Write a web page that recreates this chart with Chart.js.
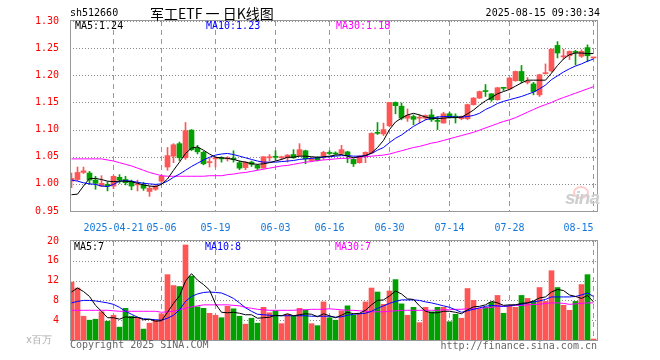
<!DOCTYPE html>
<html>
<head>
<meta charset="utf-8">
<script src="https://cdn.jsdelivr.net/npm/chart.js@4.4.1/dist/chart.umd.min.js"></script>
<style>
body { margin: 0; background: #fff; }
#wrap { position: relative; width: 660px; height: 360px; font-family: 'DejaVu Sans Mono', monospace; font-size: 10px; }
.t { position: absolute; white-space: nowrap; line-height: 12px; }
</style>
</head>
<body>
<div id="wrap">
  <canvas id="kline" width="660" height="232" style="position:absolute;left:0;top:0"></canvas>
  <canvas id="vol" width="660" height="128" style="position:absolute;left:0;top:232px"></canvas>

  <div class="t" style="left:70px;top:7px">sh512660</div>
  <div class="t" style="left:150px;top:3px;font:14px 'Noto Sans CJK SC';line-height:20px">军工ETF 一 日K线图</div>
  <div class="t" style="right:60px;top:7px">2025-08-15 09:30:34</div>

  <div class="t" style="left:75px;top:20px;color:#000">MA5:1.24</div>
  <div class="t" style="left:206px;top:20px;color:#0000ff">MA10:1.23</div>
  <div class="t" style="left:336px;top:20px;color:#ff00ff">MA30:1.18</div>

  <div class="t" style="left:74px;top:241px;color:#000">MA5:7</div>
  <div class="t" style="left:205px;top:241px;color:#0000ff">MA10:8</div>
  <div class="t" style="left:335px;top:241px;color:#ff00ff">MA30:7</div>

  <div class="t" style="left:26px;top:334px;color:#aaa">x百万</div>
  <div class="t" style="left:70px;top:339px;color:#666">Copyright 2025 SINA.COM</div>
  <div class="t" style="right:63px;top:340px;color:#666">http://finance.sina.com.cn</div>

  <div style="position:absolute;left:573px;top:186px;width:12px;height:9px;border:2px solid rgba(255,110,110,0.35);border-radius:50%"></div>
  <div class="t" style="left:565px;top:189px;font:italic bold 19px 'Liberation Sans';line-height:18px;color:#cfcfcf;letter-spacing:-1px">sina</div>
</div>

<script>
// x positions of the date grid lines (candle index) and their labels
const gridIdx = [7, 15, 24, 34, 43, 53, 63, 73, 87];
const gridLabels = ['2025-04-21', '05-06', '05-19', '06-03', '06-16', '06-30', '07-14', '07-28', '08-15     '];
const priceTicks = [0.95, 1.00, 1.05, 1.10, 1.15, 1.20, 1.25, 1.30];
const volTicks = [0, 4, 8, 12, 16, 20];

// daily candles, 2025-04-10 .. 2025-08-15
const opens = [1.005, 1.008, 1.021, 1.020, 1.007, 0.996, 0.999, 0.996, 1.012, 1.008,
  1.003, 0.998, 0.998, 0.986, 0.990, 1.005, 1.031, 1.051, 1.074, 1.048,
  1.099, 1.066, 1.058, 1.039, 1.046, 1.047, 1.046, 1.047, 1.039, 1.030,
  1.040, 1.034, 1.029, 1.048, 1.050, 1.048, 1.048, 1.054, 1.052, 1.061,
  1.043, 1.049, 1.052, 1.057, 1.056, 1.056, 1.059, 1.045, 1.039, 1.051,
  1.057, 1.094, 1.092, 1.107, 1.150, 1.143, 1.121, 1.124, 1.121, 1.121,
  1.127, 1.116, 1.112, 1.129, 1.124, 1.120, 1.120, 1.146, 1.158, 1.171,
  1.166, 1.155, 1.177, 1.175, 1.190, 1.207, 1.187, 1.184, 1.164, 1.203,
  1.208, 1.255, 1.234, 1.236, 1.244, 1.235, 1.251, 1.232];
const highs = [1.020, 1.031, 1.031, 1.023, 1.014, 1.015, 1.004, 1.015, 1.017, 1.014,
  1.007, 1.007, 1.003, 0.996, 0.999, 1.017, 1.067, 1.074, 1.077, 1.113,
  1.100, 1.071, 1.060, 1.048, 1.050, 1.050, 1.050, 1.061, 1.042, 1.041,
  1.042, 1.036, 1.050, 1.054, 1.061, 1.051, 1.054, 1.063, 1.074, 1.062,
  1.049, 1.050, 1.060, 1.061, 1.059, 1.071, 1.060, 1.046, 1.052, 1.059,
  1.094, 1.113, 1.112, 1.150, 1.151, 1.149, 1.138, 1.127, 1.127, 1.127,
  1.137, 1.124, 1.132, 1.132, 1.129, 1.125, 1.147, 1.159, 1.171, 1.183,
  1.166, 1.178, 1.178, 1.196, 1.208, 1.218, 1.196, 1.187, 1.202, 1.221,
  1.249, 1.262, 1.248, 1.245, 1.246, 1.247, 1.256, 1.233];
const lows = [0.993, 1.006, 1.019, 0.999, 0.990, 0.995, 0.987, 0.991, 1.001, 0.998,
  0.989, 0.987, 0.988, 0.977, 0.988, 1.002, 1.025, 1.039, 1.043, 1.045,
  1.061, 1.055, 1.035, 1.031, 1.031, 1.040, 1.042, 1.040, 1.026, 1.026,
  1.032, 1.026, 1.029, 1.042, 1.044, 1.044, 1.040, 1.047, 1.051, 1.037,
  1.041, 1.042, 1.045, 1.054, 1.054, 1.054, 1.039, 1.032, 1.038, 1.039,
  1.056, 1.091, 1.089, 1.105, 1.129, 1.118, 1.115, 1.109, 1.112, 1.118,
  1.115, 1.100, 1.112, 1.121, 1.112, 1.118, 1.118, 1.145, 1.157, 1.161,
  1.152, 1.154, 1.172, 1.173, 1.189, 1.186, 1.184, 1.164, 1.161, 1.202,
  1.206, 1.232, 1.230, 1.229, 1.219, 1.233, 1.225, 1.231];
const closes = [1.010, 1.021, 1.024, 1.007, 1.001, 1.001, 0.996, 1.014, 1.007, 1.002,
  0.996, 1.000, 0.992, 0.992, 0.996, 1.014, 1.052, 1.072, 1.048, 1.098,
  1.063, 1.059, 1.037, 1.040, 1.048, 1.046, 1.047, 1.045, 1.029, 1.040,
  1.036, 1.029, 1.050, 1.050, 1.049, 1.049, 1.053, 1.048, 1.063, 1.046,
  1.046, 1.043, 1.058, 1.056, 1.055, 1.063, 1.052, 1.037, 1.051, 1.058,
  1.093, 1.093, 1.100, 1.150, 1.144, 1.121, 1.126, 1.119, 1.122, 1.126,
  1.118, 1.115, 1.129, 1.122, 1.123, 1.124, 1.146, 1.158, 1.170, 1.170,
  1.155, 1.177, 1.176, 1.195, 1.207, 1.190, 1.188, 1.170, 1.201, 1.204,
  1.248, 1.241, 1.235, 1.244, 1.242, 1.244, 1.236, 1.233];

// price moving averages as drawn on the chart
const ma5 = [0.980, 0.981, 0.996, 1.010, 1.010, 1.008, 1.005, 1.004, 1.005, 1.005,
  1.004, 1.001, 0.998, 0.996, 0.995, 0.999, 1.009, 1.025, 1.040, 1.056,
  1.066, 1.068, 1.062, 1.055, 1.049, 1.048, 1.047, 1.045, 1.042, 1.040,
  1.037, 1.036, 1.037, 1.039, 1.042, 1.045, 1.049, 1.049, 1.051, 1.051,
  1.050, 1.049, 1.050, 1.051, 1.053, 1.054, 1.051, 1.048, 1.050, 1.052,
  1.057, 1.067, 1.080, 1.100, 1.114, 1.121, 1.127, 1.130, 1.127, 1.123,
  1.121, 1.120, 1.121, 1.122, 1.122, 1.123, 1.129, 1.136, 1.145, 1.153,
  1.159, 1.166, 1.170, 1.174, 1.180, 1.186, 1.191, 1.191, 1.191, 1.191,
  1.204, 1.218, 1.230, 1.238, 1.241, 1.241, 1.240, 1.240];
const ma10 = [1.007, 1.005, 1.002, 1.000, 0.999, 0.996, 0.995, 0.999, 1.005, 1.006,
  1.005, 1.003, 1.001, 1.000, 0.999, 1.000, 1.005, 1.012, 1.018, 1.025,
  1.032, 1.038, 1.044, 1.049, 1.053, 1.055, 1.056, 1.054, 1.051, 1.048,
  1.045, 1.042, 1.040, 1.040, 1.040, 1.041, 1.042, 1.043, 1.045, 1.046,
  1.047, 1.048, 1.049, 1.050, 1.051, 1.052, 1.052, 1.051, 1.051, 1.052,
  1.056, 1.062, 1.067, 1.076, 1.084, 1.090, 1.098, 1.106, 1.112, 1.118,
  1.121, 1.123, 1.124, 1.124, 1.123, 1.123, 1.124, 1.126, 1.130, 1.137,
  1.142, 1.148, 1.152, 1.155, 1.158, 1.161, 1.165, 1.169, 1.175, 1.182,
  1.192, 1.199, 1.206, 1.212, 1.217, 1.221, 1.226, 1.230];
const ma30 = [1.046, 1.046, 1.046, 1.046, 1.046, 1.046, 1.044, 1.042, 1.039, 1.036,
  1.033, 1.029, 1.025, 1.021, 1.018, 1.015, 1.014, 1.014, 1.014, 1.014,
  1.014, 1.014, 1.014, 1.015, 1.015, 1.015, 1.017, 1.018, 1.020, 1.021,
  1.023, 1.025, 1.027, 1.029, 1.031, 1.033, 1.034, 1.036, 1.038, 1.040,
  1.041, 1.043, 1.044, 1.045, 1.046, 1.047, 1.047, 1.048, 1.049, 1.050,
  1.051, 1.052, 1.053, 1.055, 1.058, 1.061, 1.064, 1.067, 1.069, 1.072,
  1.075, 1.077, 1.080, 1.083, 1.086, 1.089, 1.092, 1.095, 1.099, 1.103,
  1.107, 1.111, 1.115, 1.118, 1.122, 1.127, 1.132, 1.137, 1.142, 1.146,
  1.150, 1.155, 1.159, 1.163, 1.167, 1.171, 1.175, 1.179];

// volume (x百万) and its moving averages
const vols = [11.7, 10.5, 4.8, 4.0, 4.2, 5.7, 3.8, 5.0, 2.6, 6.4,
  4.8, 4.5, 2.2, 3.4, 4.0, 5.3, 13.2, 11.0, 10.8, 19.2,
  12.9, 6.7, 6.4, 5.4, 5.0, 4.5, 6.8, 6.3, 4.8, 3.2,
  4.4, 3.4, 6.6, 5.5, 5.9, 3.3, 5.2, 4.8, 6.4, 6.1,
  3.3, 2.9, 7.7, 4.5, 4.0, 5.9, 6.9, 5.0, 5.3, 7.7,
  10.5, 9.7, 7.2, 9.9, 12.2, 7.3, 5.0, 6.6, 3.5, 6.6,
  5.7, 6.6, 6.6, 3.7, 5.2, 4.4, 10.4, 8.0, 6.2, 6.6,
  7.6, 9.0, 5.4, 6.8, 6.6, 9.0, 8.4, 7.8, 10.6, 7.8,
  14.0, 10.6, 7.0, 6.0, 7.8, 11.2, 13.2, 0.2];
const volMa5 = [9.7, 10.5, 9.8, 8.8, 7.0, 5.8, 4.5, 4.5, 4.2, 4.7,
  4.5, 4.6, 4.1, 4.2, 3.8, 3.9, 5.6, 7.4, 8.9, 11.9,
  13.4, 12.1, 11.2, 10.1, 7.3, 5.6, 5.5, 5.6, 5.4, 5.1,
  5.1, 4.4, 4.5, 4.6, 5.0, 4.9, 5.3, 4.9, 5.1, 5.3,
  5.2, 4.7, 5.3, 4.9, 4.5, 5.0, 5.6, 5.3, 5.4, 6.0,
  7.1, 8.0, 8.1, 8.9, 9.9, 9.3, 8.3, 8.2, 6.9, 5.8,
  5.5, 5.5, 5.8, 5.8, 5.6, 5.3, 6.1, 6.7, 6.8, 7.1,
  7.8, 7.5, 7.0, 7.1, 7.1, 7.4, 7.5, 7.9, 8.5, 8.7,
  9.7, 10.2, 10.0, 9.1, 8.8, 8.4, 9.0, 7.7];
const volMa10 = [7.5, 7.8, 8.0, 8.0, 7.9, 7.7, 7.5, 7.2, 6.6, 5.8,
  5.2, 4.6, 4.3, 4.2, 4.1, 4.0, 4.4, 5.0, 6.1, 7.8,
  8.8, 9.3, 9.6, 9.7, 9.6, 9.5, 9.0, 8.4, 7.5, 6.5,
  5.8, 5.2, 5.1, 5.0, 4.9, 4.9, 4.9, 4.9, 4.9, 4.9,
  4.8, 4.8, 4.8, 4.8, 4.6, 4.7, 5.0, 5.2, 5.3, 5.4,
  5.8, 6.4, 6.9, 7.4, 7.8, 8.1, 8.1, 8.1, 8.0, 7.7,
  7.5, 7.2, 6.9, 6.6, 6.1, 5.6, 5.9, 6.2, 6.5, 6.8,
  7.0, 6.9, 6.8, 6.9, 7.1, 7.2, 7.5, 7.7, 7.9, 8.2,
  8.7, 8.7, 8.7, 8.7, 8.8, 9.1, 9.5, 8.8];
const volMa30 = [6.0, 6.0, 6.0, 6.0, 6.0, 6.0, 6.0, 5.9, 5.8, 5.8,
  5.8, 5.8, 5.8, 5.8, 5.8, 5.6, 5.7, 5.8, 6.1, 6.4,
  6.7, 6.9, 7.1, 7.1, 7.1, 7.1, 7.1, 7.0, 6.9, 6.6,
  6.4, 6.2, 6.1, 6.0, 6.0, 6.0, 6.0, 6.0, 6.1, 6.1,
  6.2, 6.2, 6.2, 6.3, 6.2, 6.1, 6.0, 6.0, 5.9, 5.8,
  5.7, 5.7, 5.7, 5.8, 5.9, 6.0, 6.0, 6.0, 6.0, 6.0,
  6.0, 6.0, 6.1, 6.1, 6.2, 6.2, 6.3, 6.3, 6.4, 6.5,
  6.6, 6.8, 6.8, 6.9, 7.0, 7.0, 7.1, 7.2, 7.2, 7.4,
  7.5, 7.5, 7.4, 7.2, 7.3, 7.4, 7.5, 7.5];

const UP = '#ff5555';
const DOWN = '#00a000';
const colorAt = i => (closes[i] >= opens[i] ? UP : DOWN);
const idx = closes.map((_, i) => i);

Chart.defaults.font.family = "'DejaVu Sans Mono', monospace";
Chart.defaults.font.size = 10;

// dotted levels and dashed date lines, placed by the chart's own scales
function gridLines(levels) {
  return {
    id: 'gridLines',
    beforeDatasetsDraw(chart) {
      const { ctx, chartArea: a, scales: { x, y } } = chart;
      ctx.save();
      ctx.lineWidth = 1;
      ctx.strokeStyle = '#8a8a8a';
      ctx.setLineDash([1, 2]);
      levels.forEach(v => {
        const py = Math.round(y.getPixelForValue(v)) + 0.5;
        ctx.beginPath(); ctx.moveTo(a.left, py); ctx.lineTo(a.right, py); ctx.stroke();
      });
      ctx.strokeStyle = '#999';
      ctx.setLineDash([5, 4]);
      gridIdx.forEach(v => {
        const px = Math.floor(x.getPixelForValue(v)) + 0.5;
        ctx.beginPath(); ctx.moveTo(px, a.top); ctx.lineTo(px, a.bottom); ctx.stroke();
      });
      ctx.restore();
    }
  };
}

// plain gray box round the plot area
const frame = {
  id: 'frame',
  afterDraw(chart) {
    const a = chart.chartArea, ctx = chart.ctx;
    ctx.save();
    ctx.strokeStyle = '#999';
    ctx.lineWidth = 1;
    ctx.strokeRect(Math.round(a.left) + 0.5, Math.round(a.top) - 0.5, Math.round(a.right - a.left) - 1, Math.round(a.bottom - a.top) + 1);
    ctx.restore();
  }
};

function xScale(showLabels, h) {
  return {
    type: 'linear', min: -0.25, max: 87.75, offset: false,
    afterBuildTicks: s => { s.ticks = gridIdx.map(v => ({ value: v })); },
    afterFit: s => { s.height = h; },
    ticks: {
      display: showLabels, autoSkip: false, maxRotation: 0, padding: 3, color: '#1177dd',
      callback: v => gridLabels[gridIdx.indexOf(v)]
    },
    grid: { display: false, offset: false },
    border: { display: false }
  };
}

function yScale(min, max, ticks, fmt) {
  return {
    min: min, max: max,
    afterBuildTicks: s => { s.ticks = ticks.map(v => ({ value: v })); },
    afterFit: s => { s.width = 70; },
    ticks: { color: '#ff0000', padding: 3, callback: fmt },
    grid: { display: false },
    border: { display: false }
  };
}

function maLine(data, color) {
  return {
    type: 'line', order: 0, data: data.map((v, i) => ({ x: i, y: v })),
    borderColor: color, borderWidth: 1, pointRadius: 0, tension: 0
  };
}

new Chart(document.getElementById('kline'), {
  type: 'bar',
  data: {
    datasets: [
      maLine(ma5, '#000000'),
      maLine(ma10, '#0000ff'),
      maLine(ma30, '#ff00ff'),
      { // bodies
        order: 1, grouped: false, barThickness: 5, minBarLength: 1,
        data: idx.map(i => ({ x: i, y: [opens[i], closes[i]] })),
        backgroundColor: idx.map(colorAt)
      },
      { // wicks
        order: 2, grouped: false, barThickness: 1,
        data: idx.map(i => ({ x: i, y: [lows[i], highs[i]] })),
        backgroundColor: idx.map(colorAt)
      }
    ]
  },
  options: {
    responsive: false, animation: false, events: [],
    layout: { padding: { top: 21, right: 62, left: 0, bottom: 0 } },
    plugins: { legend: { display: false }, tooltip: { enabled: false } },
    scales: { x: xScale(true, 21), y: yScale(0.95, 1.30, priceTicks, v => v.toFixed(2)) }
  },
  plugins: [gridLines(priceTicks), frame]
});

new Chart(document.getElementById('vol'), {
  type: 'bar',
  data: {
    datasets: [
      maLine(volMa5, '#000000'),
      maLine(volMa10, '#0000ff'),
      maLine(volMa30, '#ff00ff'),
      {
        order: 1, grouped: false, barThickness: 5,
        data: idx.map(i => ({ x: i, y: vols[i] })),
        backgroundColor: idx.map(colorAt)
      }
    ]
  },
  options: {
    responsive: false, animation: false, events: [],
    layout: { padding: { top: 8, right: 62, left: 0, bottom: 0 } },
    plugins: { legend: { display: false }, tooltip: { enabled: false } },
    scales: { x: xScale(false, 20), y: yScale(0, 20, volTicks, v => (v === 0 ? '' : v)) }
  },
  plugins: [gridLines(volTicks), frame]
});
</script>
</body>
</html>
